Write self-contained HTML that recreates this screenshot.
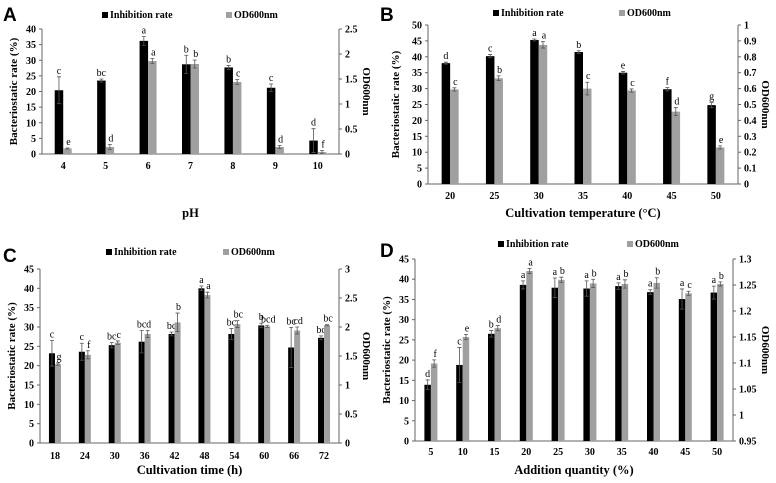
<!DOCTYPE html>
<html><head><meta charset="utf-8"><style>
body{margin:0;background:#fff}
svg{display:block;font-family:"Liberation Serif",serif}
.t{font-size:10px;font-weight:bold}
.ti{font-size:12.5px;font-weight:bold}
.yt{font-size:11px;font-weight:bold}
.lt{font-size:10px}
.pl{font-family:"Liberation Sans",sans-serif;font-weight:bold;font-size:19px}
</style></head><body>
<svg id="c" width="776" height="483" viewBox="0 0 776 483"></svg>
<script>
const catsA=["4","5","6","7","8","9","10"];
const rateA=[20.4,23.5,36.2,28.7,27.7,21.2,4.3];
const rateErrA=[4.3,0.5,1.4,2.9,0.6,1.2,3.8];
const odA=[0.11,0.14,1.86,1.8,1.44,0.14,0.04];
const odErrA=[0.01,0.05,0.05,0.08,0.05,0.03,0.03];
const rateLetA=["c","bc","a","b","b","c","d"];
const odLetA=["e","d","a","b","c","d","f"];

const catsB=["20","25","30","35","40","45","50"];
const rateB=[38,40.2,45.3,41.5,35,29.8,24.8];
const rateErrB=[0.3,0.5,0.3,0.4,0.4,0.5,0.8];
const odB=[0.595,0.665,0.875,0.6,0.588,0.455,0.23];
const odErrB=[0.01,0.015,0.02,0.04,0.01,0.025,0.01];
const rateLetB=["d","c","a","b","e","f","g"];
const odLetB=["c","b","a","c","c","d","e"];

const catsC=["18","24","30","36","42","48","54","60","66","72"];
const rateC=[23.2,23.6,25.3,26.2,28.2,40,28.2,30.4,24.7,27.2];
const rateErrC=[3.3,2.2,0.7,2.9,0.5,0.6,1.4,0.6,5.2,0.5];
const odC=[1.36,1.52,1.73,1.88,2.08,2.55,2.05,2.01,1.94,2.03];
const odErrC=[0.02,0.07,0.03,0.06,0.16,0.05,0.06,0.02,0.06,0.01];
const rateLetC=["c","c","bc","bc","bc","a","bc","b","bc","bc"];
const odLetC=["g","f","c","d","b","a","bc","bcd","cd","bc"];

const catsD=["5","10","15","20","25","30","35","40","45","50"];
const rateD=[13.9,18.8,26.5,38.6,37.9,37.7,38.3,36.8,35.1,36.7];
const rateErrD=[1.2,4.3,0.8,1.0,2.4,1.9,0.8,0.6,2.5,1.6];
const odD=[1.099,1.150,1.167,1.277,1.260,1.253,1.252,1.254,1.234,1.252];
const odErrD=[0.007,0.005,0.005,0.005,0.005,0.008,0.008,0.01,0.004,0.004];
const rateLetD=["d","c","b","a","a","a","a","a","a","a"];
const odLetD=["f","e","d","a","b","b","b","b","c","b"];

const svg=document.getElementById('c');
const NS="http://www.w3.org/2000/svg";
function mk(tag,at,parent,txt){const e=document.createElementNS(NS,tag);for(const k in at)e.setAttribute(k,at[k]);if(txt!==undefined)e.textContent=txt;(parent||svg).appendChild(e);return e;}
function fmt(v){return String(+v.toFixed(3));}

function panel(p){
  const g=mk('g',{});
  
  
  const yl=v=>p.yb-(v/p.lmax)*(p.yb-p.yt);
  const yr=v=>p.yb-((v-p.rmin)/(p.rmax-p.rmin))*(p.yb-p.yt);
  const n=p.cats.length, step=(p.x1-p.x0)/n;
  const xc=i=>p.x0+step*(i+0.5);
  const lab=mk('text',{x:p.lx,y:p.ly,class:'pl'},g,p.id);
  
  
  const ax=mk('path',{d:`M${p.x0} ${p.yt}V${p.yb}H${p.x1}V${p.yt}`,stroke:'#666',fill:'none','stroke-width':1},g);
  
  
  for(let v=0;v<=p.lmax+1e-9;v+=p.lstep){
    const y=yl(v);
    mk('line',{x1:p.x0-3,x2:p.x0,y1:y,y2:y,stroke:'#666'},g);
    const t=mk('text',{x:p.x0-6,y:y+3.5,'text-anchor':'end',class:'t'},g,fmt(v));
    
    
  }
  for(let v=p.rmin;v<=p.rmax+1e-9;v+=p.rstep){
    const y=yr(v);
    mk('line',{x1:p.x1,x2:p.x1+3,y1:y,y2:y,stroke:'#666'},g);
    const t=mk('text',{x:p.x1+6,y:y+3.5,class:'t'},g,fmt(v));
    
    
  }
  const bw=p.bw;
  for(let i=0;i<n;i++){
    const cx=xc(i);
    const xt=mk('text',{x:cx,y:p.xly,'text-anchor':'middle',class:'t'},g,p.cats[i]);
    
    
    const by=yl(p.rate[i]);
    const b=mk('rect',{x:cx-bw,y:by,width:bw,height:p.yb-by,fill:'#000'},g);
    
    
    const bt=yl(p.rate[i]+p.rateErr[i]), bb=yl(p.rate[i]-p.rateErr[i]);
    const bxc=cx-bw/2;
    mk('path',{d:`M${bxc} ${bt}V${bb}M${bxc-2} ${bt}H${bxc+2}M${bxc-2} ${bb}H${bxc+2}`,stroke:'#555','stroke-width':0.8},g);
    const l1=mk('text',{x:bxc,y:bt-3,'text-anchor':'middle',class:'lt'},g,p.rateLet[i]);
    
    
    const gy=yr(p.od[i]);
    const r=mk('rect',{x:cx,y:gy,width:bw,height:p.yb-gy,fill:'#a0a0a0'},g);
    
    
    const gt=yr(p.od[i]+p.odErr[i]), gb=yr(p.od[i]-p.odErr[i]);
    const gxc=cx+bw/2;
    mk('path',{d:`M${gxc} ${gt}V${gb}M${gxc-2} ${gt}H${gxc+2}M${gxc-2} ${gb}H${gxc+2}`,stroke:'#555','stroke-width':0.8},g);
    const l2=mk('text',{x:gxc+1,y:gt-3,'text-anchor':'middle',class:'lt'},g,p.odLet[i]);
    
    
  }
  const xtit=mk('text',{x:(p.x0+p.x1)/2,y:p.xty,'text-anchor':'middle',class:'ti'},g,p.xt);
  
  
  const cy=(p.yt+p.yb)/2;
  const yt=mk('text',{x:0,y:0,'text-anchor':'middle',class:'yt',transform:`translate(${p.ytx},${cy}) rotate(-90)`},g,'Bacteriostatic rate (%)');
  
  
  const rt=mk('text',{x:0,y:0,'text-anchor':'middle',class:'yt',transform:`translate(${p.rtx},${cy}) rotate(90)`},g,'OD600nm');
  
  
  const le1=mk('g',{},g);
  
  
  mk('rect',{x:p.lg1,y:p.lgy-6,width:6,height:6,fill:'#000'},le1);
  mk('text',{x:p.lg1+8,y:p.lgy,class:'t'},le1,'Inhibition rate');
  const le2=mk('g',{},g);
  
  
  mk('rect',{x:p.lg2,y:p.lgy-6,width:6,height:6,fill:'#a0a0a0'},le2);
  mk('text',{x:p.lg2+8,y:p.lgy,class:'t'},le2,'OD600nm');
}
panel({id:'A',x0:42,x1:339,yt:29,yb:154,lmax:40,lstep:5,rmin:0,rmax:2.5,rstep:0.5,cats:catsA,rate:rateA,rateErr:rateErrA,od:odA,odErr:odErrA,rateLet:rateLetA,odLet:odLetA,bw:8.5,xly:169,xty:217,xt:'pH',ytx:17,rtx:363,lx:3,ly:21,lg1:102,lg2:226,lgy:18});
panel({id:'B',x0:428,x1:738,yt:25,yb:184,lmax:50,lstep:5,rmin:0,rmax:1,rstep:0.1,cats:catsB,rate:rateB,rateErr:rateErrB,od:odB,odErr:odErrB,rateLet:rateLetB,odLet:odLetB,bw:8.5,xly:199,xty:217,xt:'Cultivation temperature (°C)',ytx:399,rtx:762,lx:380,ly:21,lg1:493,lg2:619,lgy:16});
panel({id:'C',x0:40,x1:339,yt:269,yb:443,lmax:45,lstep:5,rmin:0,rmax:3,rstep:0.5,cats:catsC,rate:rateC,rateErr:rateErrC,od:odC,odErr:odErrC,rateLet:rateLetC,odLet:odLetC,bw:6,xly:459,xty:474,xt:'Cultivation time (h)',ytx:15,rtx:363,lx:3,ly:262,lg1:106,lg2:223,lgy:255});
panel({id:'D',x0:415,x1:733,yt:259,yb:441,lmax:45,lstep:5,rmin:0.95,rmax:1.3,rstep:0.05,cats:catsD,rate:rateD,rateErr:rateErrD,od:odD,odErr:odErrD,rateLet:rateLetD,odLet:odLetD,bw:6.5,xly:455,xty:474,xt:'Addition quantity (%)',ytx:390,rtx:762,lx:380,ly:257,lg1:498,lg2:627,lgy:247});
</script>
</body></html>
